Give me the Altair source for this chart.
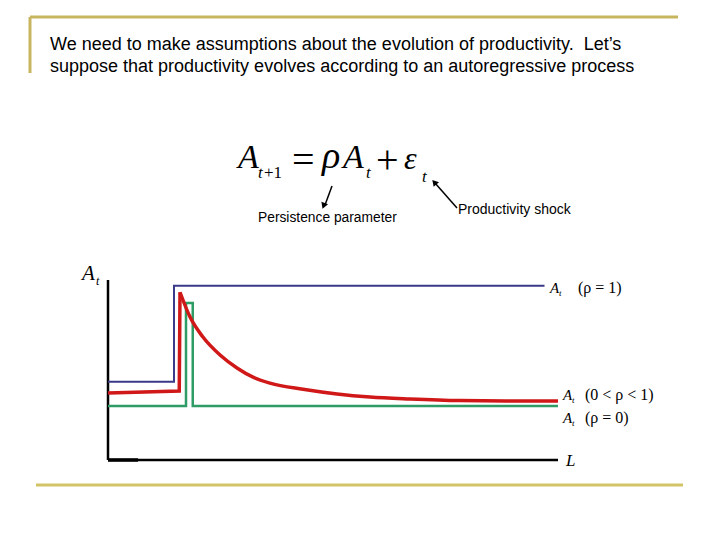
import altair as alt
import pandas as pd

# ---------------- data ----------------
TITLE_LINES = [
    "We need to make assumptions about the evolution of productivity.\u00a0 Let\u2019s",
    "suppose that productivity evolves according to an autoregressive process",
]
NOTE_LABELS = ["Persistence parameter", "Productivity shock"]
SERIES_LABELS = ["(\u03c1 = 1)", "(0 < \u03c1 < 1)", "(\u03c1 = 0)"]
AXIS_LABELS = ["A", "t", "L"]

# rho = 1 (blue)
blue_t = [0, 4.4, 4.4, 29.1]
blue_A = [4.35, 4.35, 9.68, 9.68]
# rho = 0 (green)
green_t = [0, 5.2, 5.2, 5.65, 5.65, 30]
green_A = [3.0, 3.0, 8.72, 8.72, 3.0, 3.0]
# 0 < rho < 1 (red): before the shock, then the decay from the peak
red_pre_t = [0, 4.75, 4.8]
red_pre_A = [3.72, 3.83, 9.32]
red_t = [4.8, 5.47, 6.33, 7.47, 8.6, 9.67, 10.8, 13.0, 15.27, 17.47, 20.13, 23.47, 26.5, 30]
red_A = [9.32, 7.94, 6.83, 5.83, 5.11, 4.6, 4.27, 3.93, 3.67, 3.5, 3.39, 3.3, 3.28, 3.28]

AXIS_T = [0, 30]
AXIS_A = [0, 10]
AXIS_THICK_T = [0, 2]

XS = alt.Scale(domain=[0, 30], range=[100, 550])
YS = alt.Scale(domain=[0, 10], range=[452, 272])


def series(ts, As, color, width, interp="linear"):
    df = pd.DataFrame({"t": ts, "A": As, "i": list(range(len(ts)))})
    return alt.Chart(df).mark_line(
        color=color, strokeWidth=width, strokeJoin="miter", interpolate=interp
    ).encode(
        x=alt.X("t:Q", scale=XS, axis=None),
        y=alt.Y("A:Q", scale=YS, axis=None),
        order="i:Q",
    )


def txt(s, x, y, size, font="Liberation Serif", style="normal", color="black"):
    return alt.Chart(pd.DataFrame({"s": [s]})).mark_text(
        align="left", baseline="alphabetic", font=font, fontSize=size,
        fontStyle=style, color=color,
    ).encode(x=alt.value(x), y=alt.value(y), text="s:N")


def frame(x, y, x2, y2, color, w):
    return alt.Chart(pd.DataFrame({"k": [0]})).mark_rule(color=color, strokeWidth=w).encode(
        x=alt.value(x), y=alt.value(y), x2=alt.value(x2), y2=alt.value(y2)
    )


def arrowhead(x, y, ang):
    return alt.Chart(pd.DataFrame({"k": [0]})).mark_point(
        shape="triangle", filled=True, color="black", size=50, opacity=1
    ).encode(x=alt.value(x), y=alt.value(y), angle=alt.value(ang))


layers = []
# slide frame
GOLD = "#C8B560"
layers.append(frame(22, 9, 670, 9, GOLD, 3))
layers.append(frame(22, 9, 22, 65, GOLD, 3))
layers.append(frame(28, 477, 675, 477, "#D2C466", 3))

# title
layers.append(txt(TITLE_LINES[0], 42, 42, 18, font="Liberation Sans"))
layers.append(txt(TITLE_LINES[1], 42, 64, 18, font="Liberation Sans"))

# equation A_{t+1} = rho A_t + eps_t
layers.append(txt("A", 230, 160, 34, style="italic"))
layers.append(txt("t", 250, 170, 17, style="italic"))
layers.append(txt("+1", 256, 170, 17))
layers.append(txt("=", 284, 164.5, 40))
layers.append(txt("\u03c1", 314, 160, 38, style="italic"))
layers.append(txt("A", 335, 160, 34, style="italic"))
layers.append(txt("t", 358, 170, 17, style="italic"))
layers.append(txt("+", 368, 164.5, 40))
layers.append(txt("\u03b5", 396, 161, 32, style="italic"))
layers.append(txt("t", 414, 174, 17, style="italic"))

# arrows and notes
layers.append(frame(324, 178, 317, 197, "black", 1.5))
layers.append(arrowhead(316, 197, 201))
layers.append(frame(449, 200, 427, 175, "black", 1.5))
layers.append(arrowhead(427, 175, 319))
layers.append(txt(NOTE_LABELS[0], 250, 214, 13.8, font="Liberation Sans"))
layers.append(txt(NOTE_LABELS[1], 450, 206, 14, font="Liberation Sans"))

# axes
ax_x = pd.DataFrame({"t": [AXIS_T[0]], "t2": [AXIS_T[1]], "A": [AXIS_A[0]]})
ax_y = pd.DataFrame({"t": [AXIS_T[0]], "A": [AXIS_A[0]], "A2": [AXIS_A[1]]})
ax_thick = pd.DataFrame({"t": [AXIS_THICK_T[0]], "t2": [AXIS_THICK_T[1]], "A": [AXIS_A[0]]})
layers.append(alt.Chart(ax_y).mark_rule(color="black", strokeWidth=2.5).encode(
    x=alt.X("t:Q", scale=XS, axis=None), y=alt.Y("A:Q", scale=YS, axis=None), y2="A2:Q"))
layers.append(alt.Chart(ax_x).mark_rule(color="black", strokeWidth=2.5).encode(
    x=alt.X("t:Q", scale=XS, axis=None), x2="t2:Q", y=alt.Y("A:Q", scale=YS, axis=None)))
layers.append(alt.Chart(ax_thick).mark_rule(color="black", strokeWidth=3.5).encode(
    x=alt.X("t:Q", scale=XS, axis=None), x2="t2:Q", y=alt.Y("A:Q", scale=YS, axis=None)))

# series
layers.append(series(blue_t, blue_A, "#3A3A88", 2))
layers.append(series(green_t, green_A, "#2F9C66", 2.5))
layers.append(series(red_pre_t, red_pre_A, "#D01818", 3.5))
layers.append(series(red_t, red_A, "#D01818", 3.5, interp="monotone"))

# axis labels
layers.append(txt(AXIS_LABELS[0], 74, 272, 21, style="italic"))
layers.append(txt(AXIS_LABELS[1], 88, 277, 12, style="italic"))
layers.append(txt(AXIS_LABELS[2], 558, 458, 17, style="italic"))

# series labels
for (ax, ay, label, off) in [(542, 285, SERIES_LABELS[0], 28), (555, 392, SERIES_LABELS[1], 22),
                             (555, 415, SERIES_LABELS[2], 22)]:
    layers.append(txt(AXIS_LABELS[0], ax, ay, 15, style="italic"))
    layers.append(txt(AXIS_LABELS[1], ax + 9, ay + 3, 9, style="italic"))
    layers.append(txt(label, ax + off, ay, 16))

chart = alt.layer(*layers).properties(
    width=704, height=524, padding=0, autosize="none"
).configure_view(stroke=None)

chart.save("out.html", embed_options={"renderer": "svg", "actions": False})
